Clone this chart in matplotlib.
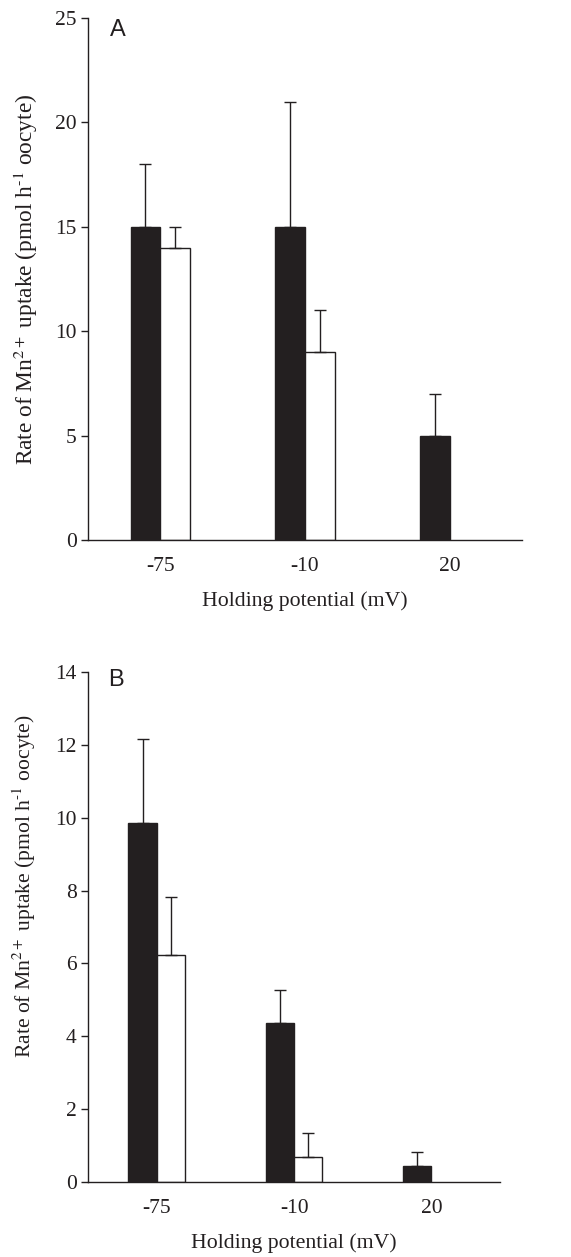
import matplotlib
matplotlib.use("Agg")
import matplotlib.pyplot as plt
import numpy as np

# holding potentials (mV)
potentials = ["-75", "-10", "20"]

# panel A
a_black = [15, 15, 5]
a_black_err = [3, 6, 2]
a_white = [14, 9, None]
a_white_err = [1, 2, None]

# panel B
b_black = [9.85, 4.37, 0.45]
b_black_err = [2.3, 0.9, 0.38]
b_white = [6.23, 0.68, None]
b_white_err = [1.58, 0.67, None]

ink = "#231f20"
plt.rcParams['font.family'] = ['Liberation Serif', 'DejaVu Serif']
plt.rcParams['mathtext.fontset'] = 'stix'

fig = plt.figure(figsize=(5.71, 12.57), dpi=100)
axA = fig.add_axes([0.154, 0.5704, 0.760, 0.4153])
axB = fig.add_axes([0.154, 0.0597, 0.722, 0.4057])

w = 0.205
ylab = r"Rate of Mn$^{2+}$ uptake (pmol h$^{\text{-}1}$ oocyte)"


def draw(ax, black, black_err, white, white_err, ymax, step, letter, ly, ysize, yx, ypos):
    x = np.arange(len(potentials))
    ax.bar(x - w / 2, black, w, color=ink, edgecolor=ink, linewidth=1)
    ax.errorbar(x - w / 2, black, yerr=[np.zeros(len(black)), black_err],
                fmt='none', ecolor=ink, elinewidth=1, capsize=4.5, capthick=1)
    for i in range(len(white)):
        if white[i] is None:
            continue
        ax.bar(x[i] + w / 2, white[i], w, color='white', edgecolor=ink, linewidth=1)
        ax.errorbar([x[i] + w / 2], [white[i]], yerr=[[0], [white_err[i]]],
                    fmt='none', ecolor=ink, elinewidth=1, capsize=4.5, capthick=1)
    ax.set_xlim(-0.5, 2.5)
    ax.set_ylim(0, ymax)
    ax.set_yticks(np.arange(0, ymax + 0.01, step))
    ax.set_xticks(x)
    ax.set_xticklabels(potentials)
    ax.spines['top'].set_visible(False)
    ax.spines['right'].set_visible(False)
    for s in ['left', 'bottom']:
        ax.spines[s].set_linewidth(1)
        ax.spines[s].set_color(ink)
    ax.tick_params(axis='y', direction='out', length=5, width=1, colors=ink,
                   labelsize=15.5, pad=3)
    ax.tick_params(axis='x', length=0, labelsize=15.5, pad=12, colors=ink)
    ax.set_xlabel("Holding potential (mV)", fontsize=15.7, color=ink, labelpad=11)
    ax.set_ylabel(ylab, fontsize=ysize, color=ink)
    ax.yaxis.set_label_coords(yx, ypos)
    ax.text(0.05, ly, letter, transform=ax.transAxes, fontsize=17,
            family='Liberation Sans', color=ink, va='center', ha='left')


draw(axA, a_black, a_black_err, a_white, a_white_err, 25, 5, "A", 0.977, 16.8, -0.11, 0.5)
draw(axB, b_black, b_black_err, b_white, b_white_err, 14, 2, "B", 0.984, 15.6, -0.12, 0.58)

fig.savefig("out.png", dpi=100)
